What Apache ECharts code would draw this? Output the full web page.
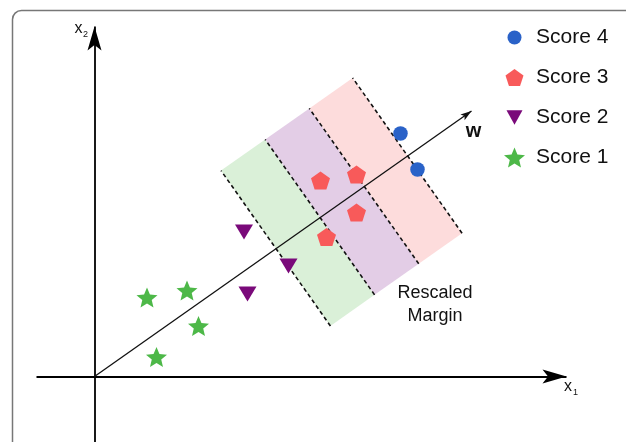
<!DOCTYPE html>
<html>
<head>
<meta charset="utf-8">
<script src="https://cdn.jsdelivr.net/npm/echarts@6/dist/echarts.min.js"></script>
<style>
  html, body { margin: 0; padding: 0; background: #fff; }
  #chart { width: 626px; height: 442px; }
</style>
</head>
<body>
<div id="chart"></div>
<script>
// Feature space (x1, x2); the origin of both axes is (0, 0).
const score4 = [[30.6, 24.3], [32.3, 20.7]];
const score3 = [[22.6, 19.6], [26.2, 20.2], [26.2, 16.4], [23.2, 13.95]];
const score2 = [[14.95, 14.45], [19.4, 11.05], [15.3, 8.25]];
const score1 = [[5.25, 7.9], [9.25, 8.6], [10.4, 5.05], [6.2, 1.95]];

// Projection direction w (arrow tip) and the axis extents.
const wTip = [37.7, 26.55];
const axisX1 = [[-5.8, 0], [47.2, 0]];
const axisX2 = [[0, -6.6], [0, 35.0]];

// Rescaled margins: thresholds along w, and the extent across w.
const bandEdges = [22.2, 27.6, 33.0, 38.3];
const bandSpan = [-9.45, 9.55];

const seriesNames = ['Score 4', 'Score 3', 'Score 2', 'Score 1'];

const FONT = '"Liberation Sans", Arial, sans-serif';
const theta = Math.atan2(wTip[1], wTip[0]);
const u = [Math.cos(theta), Math.sin(theta)];
const n = [-Math.sin(theta), Math.cos(theta)];
// (t along w, s across w) -> (x1, x2)
function fromWS(t, s) {
  return [t * u[0] + s * n[0], t * u[1] + s * n[1]];
}

const bands = bandEdges.slice(0, -1).map((e, i) => [e, bandEdges[i + 1]]);
const bandFill = ['#daf0d8', '#e3cde6', '#fddcdc'];

const pentagon = 'path://M0,-1L0.951,-0.309L0.588,0.809L-0.588,0.809L-0.951,-0.309Z';
const star = 'path://M0,-1L0.265,-0.364L0.951,-0.309L0.428,0.139L0.588,0.809L0,0.45L-0.588,0.809L-0.428,0.139L-0.951,-0.309L-0.265,-0.364Z';
const triDown = 'path://M-1,-0.9L1,-0.9L0,0.9Z';
// arrow heads: tip at the centre of a square box, so the tip lands on the line end
const bigArrow = 'path://M-24,-24M24,24M0,0L7,24L0,18.5L-7,24Z';
const smallArrow = 'path://M-11,-11M11,11M0,0L3.6,11L0,8.5L-3.6,11Z';
// legend icons padded so they keep their relative sizes in a common box
const legendIcons = {
  'Score 4': 'path://M-1.5,-1.5M1.5,1.5M1,0A1,1,0,1,1,-1,0A1,1,0,1,1,1,0Z',
  'Score 3': 'path://M-1.11,-1.205M1.11,1.015M0,-1L0.951,-0.309L0.588,0.809L-0.588,0.809L-0.951,-0.309Z',
  'Score 2': 'path://M-1.3125,-1.3125M1.3125,1.3125M-1,-0.9L1,-0.9L0,0.9Z',
  'Score 1': star
};

const chart = echarts.init(document.getElementById('chart'), null, { renderer: 'canvas' });

const option = {
  animation: false,
  backgroundColor: '#fff',
  grid: { left: 0, right: 0, top: 0, bottom: 0 },
  xAxis: { type: 'value', min: -9.45, max: 53.15, show: false },
  yAxis: { type: 'value', min: -6.55, max: 37.65, show: false },
  legend: {
    orient: 'vertical',
    left: 499,
    top: 22,
    itemWidth: 21,
    itemHeight: 21,
    itemGap: 19,
    selectedMode: false,
    textStyle: { fontSize: 21, color: '#111', fontFamily: FONT, padding: [0, 0, 0, 6] },
    data: seriesNames.map(name => ({ name, icon: legendIcons[name] }))
  },
  graphic: [
    {
      type: 'rect', silent: true, z: -10,
      shape: { x: 12.5, y: 10.5, width: 700, height: 500, r: 9 },
      style: { fill: 'none', stroke: '#777', lineWidth: 1.5 }
    },
    {
      type: 'text', silent: true, x: 473.5, y: 131,
      style: { text: 'w', font: 'bold 20px ' + FONT, fill: '#111', align: 'center', verticalAlign: 'middle' }
    },
    {
      type: 'text', silent: true, x: 435, y: 293.5,
      style: { text: 'Rescaled', font: '18px ' + FONT, fill: '#111', align: 'center', verticalAlign: 'middle' }
    },
    {
      type: 'text', silent: true, x: 435, y: 316,
      style: { text: 'Margin', font: '18px ' + FONT, fill: '#111', align: 'center', verticalAlign: 'middle' }
    },
    {
      type: 'text', silent: true, x: 78.5, y: 29,
      style: { text: 'x', font: '16px ' + FONT, fill: '#111', align: 'center', verticalAlign: 'middle' }
    },
    {
      type: 'text', silent: true, x: 85.5, y: 35,
      style: { text: '2', font: '9px ' + FONT, fill: '#111', align: 'center', verticalAlign: 'middle' }
    },
    {
      type: 'text', silent: true, x: 568, y: 387,
      style: { text: 'x', font: '16px ' + FONT, fill: '#111', align: 'center', verticalAlign: 'middle' }
    },
    {
      type: 'text', silent: true, x: 575.5, y: 392.5,
      style: { text: '1', font: '9px ' + FONT, fill: '#111', align: 'center', verticalAlign: 'middle' }
    }
  ],
  series: [
    {
      name: 'bands',
      type: 'custom',
      coordinateSystem: 'cartesian2d',
      silent: true,
      z: 1,
      data: bands,
      renderItem: function (params, api) {
        const t0 = api.value(0), t1 = api.value(1);
        const pts = [[t0, bandSpan[0]], [t1, bandSpan[0]], [t1, bandSpan[1]], [t0, bandSpan[1]]]
          .map(p => api.coord(fromWS(p[0], p[1])));
        return {
          type: 'polygon',
          shape: { points: pts },
          style: { fill: bandFill[params.dataIndex], stroke: null }
        };
      }
    },
    {
      name: 'thresholds',
      type: 'custom',
      coordinateSystem: 'cartesian2d',
      silent: true,
      z: 2,
      data: bandEdges.map(e => [e, 0]),
      renderItem: function (params, api) {
        const t = api.value(0);
        const a = api.coord(fromWS(t, bandSpan[0]));
        const b = api.coord(fromWS(t, bandSpan[1]));
        return {
          type: 'line',
          shape: { x1: a[0], y1: a[1], x2: b[0], y2: b[1] },
          style: { stroke: '#111', lineWidth: 1.6, lineDash: [4, 3] }
        };
      }
    },
    {
      name: 'axes',
      type: 'lines',
      coordinateSystem: 'cartesian2d',
      silent: true,
      z: 3,
      symbol: ['none', bigArrow],
      symbolSize: [1, 48],
      lineStyle: { color: '#000', width: 1.8, opacity: 1 },
      data: [{ coords: axisX1 }, { coords: axisX2 }]
    },
    {
      name: 'w',
      type: 'lines',
      coordinateSystem: 'cartesian2d',
      silent: true,
      z: 3,
      symbol: ['none', smallArrow],
      symbolSize: [1, 22],
      lineStyle: { color: '#111', width: 1.3, opacity: 1 },
      data: [{ coords: [[0, 0], wTip] }]
    },
    {
      name: 'Score 4', type: 'scatter', z: 5,
      symbol: 'circle', symbolSize: 14.5,
      itemStyle: { color: '#2a62c8', opacity: 1 },
      data: score4
    },
    {
      name: 'Score 3', type: 'scatter', z: 5,
      symbol: pentagon, symbolSize: 19, symbolKeepAspect: true,
      itemStyle: { color: '#f85a5a', opacity: 1 },
      data: score3
    },
    {
      name: 'Score 2', type: 'scatter', z: 5,
      symbol: triDown, symbolSize: [18, 15],
      itemStyle: { color: '#7a0a7a', opacity: 1 },
      data: score2
    },
    {
      name: 'Score 1', type: 'scatter', z: 5,
      symbol: star, symbolSize: 21, symbolKeepAspect: true,
      itemStyle: { color: '#4db848', opacity: 1 },
      data: score1
    }
  ]
};

chart.setOption(option);
</script>
</body>
</html>
